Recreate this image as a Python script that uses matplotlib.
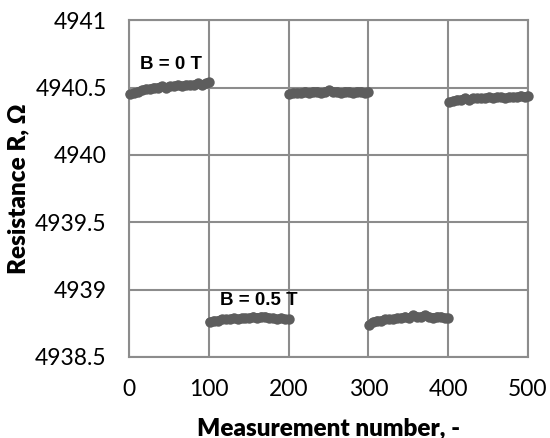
import numpy as np
import matplotlib.pyplot as plt

# measurement numbers sampled every 5 points within each 100-point block
seg_index = np.append(np.arange(1, 100, 5), 100)

# resistance readings (Ohm)
r_b0_a = [4940.45, 4940.46, 4940.47, 4940.48, 4940.49, 4940.49, 4940.50, 4940.50, 4940.51, 4940.50, 4940.51,
          4940.51, 4940.52, 4940.51, 4940.52, 4940.52, 4940.52, 4940.53, 4940.52, 4940.53, 4940.54]
r_b05_a = [4938.76, 4938.77, 4938.77, 4938.78, 4938.78, 4938.78, 4938.79, 4938.78, 4938.79, 4938.79, 4938.79,
           4938.80, 4938.79, 4938.80, 4938.80, 4938.79, 4938.79, 4938.78, 4938.79, 4938.78, 4938.78]
r_b0_b = [4940.45, 4940.46, 4940.46, 4940.46, 4940.47, 4940.46, 4940.47, 4940.47, 4940.46, 4940.47, 4940.48,
          4940.47, 4940.47, 4940.46, 4940.47, 4940.47, 4940.46, 4940.47, 4940.47, 4940.46, 4940.47]
r_b05_b = [4938.74, 4938.76, 4938.77, 4938.77, 4938.78, 4938.78, 4938.78, 4938.79, 4938.79, 4938.80, 4938.79,
           4938.81, 4938.80, 4938.80, 4938.81, 4938.80, 4938.79, 4938.80, 4938.80, 4938.79, 4938.79]
r_b0_c = [4940.39, 4940.40, 4940.41, 4940.41, 4940.42, 4940.41, 4940.42, 4940.42, 4940.42, 4940.42, 4940.43,
          4940.42, 4940.43, 4940.43, 4940.42, 4940.43, 4940.43, 4940.43, 4940.44, 4940.43, 4940.44]

segments = [r_b0_a, r_b05_a, r_b0_b, r_b05_b, r_b0_c]
x_ticks = [0, 100, 200, 300, 400, 500]
y_ticks = [4938.5, 4939, 4939.5, 4940, 4940.5, 4941]
y_tick_labels = ['4938.5', '4939', '4939.5', '4940', '4940.5', '4941']

grid_col = '#8c8c8c'
dot_col = '#5d5d5d'

fig = plt.figure(figsize=(5.5, 4.38), dpi=100)
ax = fig.add_axes([0.2345, 0.185, 0.7255, 0.769])

for i, seg in enumerate(segments):
    xs = seg_index + 100 * i
    # thin line under the dots keeps the band continuous like the dense original
    ax.plot(xs, seg, '-', color=dot_col, linewidth=6, solid_capstyle='round',
            clip_on=False, zorder=3)
    ax.plot(xs, seg, 'o', color=dot_col, markersize=7.5,
            markeredgewidth=0, clip_on=False, zorder=3)

ax.set_xlim(0, 500)
ax.set_ylim(4938.5, 4941)
ax.set_xticks(x_ticks)
ax.set_yticks(y_ticks)
ax.set_yticklabels(y_tick_labels)
ax.tick_params(axis='x', length=0, pad=16, labelsize=16.5, colors='black')
ax.tick_params(axis='y', length=0, pad=16, labelsize=16.5, colors='black')
for lab in ax.get_xticklabels() + ax.get_yticklabels():
    lab.set_family('Lato')
ax.grid(True, color=grid_col, linewidth=1.5)
for s in ax.spines.values():
    s.set_color(grid_col)
    s.set_linewidth(1.5)

ax.set_xlabel('Measurement number, -', fontsize=17.5, fontweight='heavy', family='Lato', labelpad=12)
ax.set_ylabel('Resistance R, Ω', fontsize=17.5, fontweight='heavy', family='Lato', labelpad=4)

ax.text(53, 4940.67, 'B = 0 T', fontsize=13.5, fontweight='bold', family='Liberation Sans',
        ha='center', va='center')
ax.text(163, 4938.92, 'B = 0.5 T', fontsize=13.5, fontweight='bold', family='Liberation Sans',
        ha='center', va='center')

fig.savefig('out.png', dpi=100)
